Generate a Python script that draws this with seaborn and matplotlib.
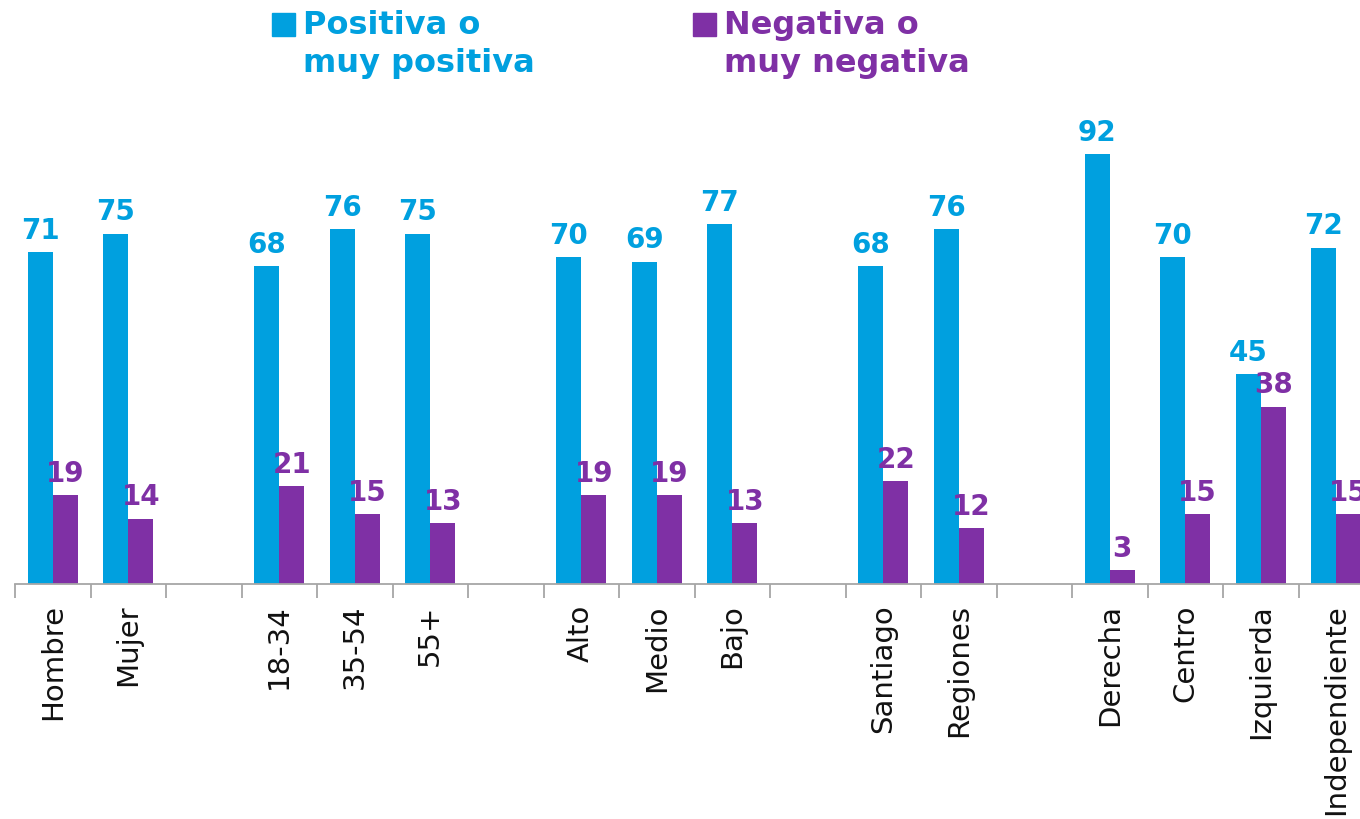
import numpy as np
import pandas as pd
import seaborn as sns
import matplotlib.pyplot as plt
from matplotlib.patches import Rectangle

# data
categorias = ["Hombre", "Mujer", "18-34", "35-54", "55+", "Alto", "Medio", "Bajo",
              "Santiago", "Regiones", "Derecha", "Centro", "Izquierda", "Independiente"]
positiva = [71, 75, 68, 76, 75, 70, 69, 77, 68, 76, 92, 70, 45, 72]
negativa = [19, 14, 21, 15, 13, 19, 19, 13, 22, 12, 3, 15, 38, 15]
# empty slots between groups
orden = ["Hombre", "Mujer", "_g1", "18-34", "35-54", "55+", "_g2", "Alto", "Medio", "Bajo",
         "_g3", "Santiago", "Regiones", "_g4", "Derecha", "Centro", "Izquierda", "Independiente"]
series = ["Positiva o\nmuy positiva", "Negativa o\nmuy negativa"]

AZUL = "#00A0DF"
MORADO = "#7F30A5"

df = pd.DataFrame({
    "categoria": categorias * 2,
    "valor": positiva + negativa,
    "serie": [series[0]] * len(categorias) + [series[1]] * len(categorias),
})

sns.set_style("white")
plt.rcParams["font.family"] = ["DejaVu Sans"]

fig = plt.figure(figsize=(13.6, 8.2), dpi=100)
slot = 75.5 / 1360
ax = fig.add_axes([15 / 1360, 235 / 820, slot * len(orden), 467 / 820])

sns.barplot(data=df, x="categoria", y="valor", hue="serie", order=orden, hue_order=series,
            palette=[AZUL, MORADO], width=0.66, saturation=1, linewidth=0, ax=ax, legend=False)

for cont, col in zip(ax.containers, [AZUL, MORADO]):
    ax.bar_label(cont, fmt="{:.0f}", padding=6, color=col, fontsize=20, fontweight="bold")

ax.set_xlim(-0.5, len(orden) - 0.5)
ax.set_ylim(0, 100)
ax.set_xlabel("")
ax.set_ylabel("")
ax.set_yticks([])
ax.set_xticks(range(len(orden)))
ax.set_xticklabels(["" if o.startswith("_") else o for o in orden], rotation=90,
                   fontsize=21, color="#111111", va="top", ha="center")
ax.set_xticks(np.arange(-0.5, len(orden)), minor=True)
ax.tick_params(axis="x", which="major", length=0, pad=14)
ax.tick_params(axis="x", which="minor", length=10, width=1.3, color="#A6A6A6", bottom=True)
sns.despine(ax=ax, left=True)
ax.spines["bottom"].set_color("#A6A6A6")
ax.spines["bottom"].set_linewidth(1.3)

# legend on top
for x0, col, txt in [(272, AZUL, series[0]), (693, MORADO, series[1])]:
    fig.add_artist(Rectangle((x0 / 1360, 1 - 37 / 820), 23 / 1360, 23 / 820,
                             transform=fig.transFigure, color=col))
    fig.text((x0 + 31) / 1360, 1 - 10 / 820, txt, color=col, fontsize=23, fontweight="bold",
             va="top", ha="left", linespacing=1.3)

fig.savefig("out.png", dpi=100)
